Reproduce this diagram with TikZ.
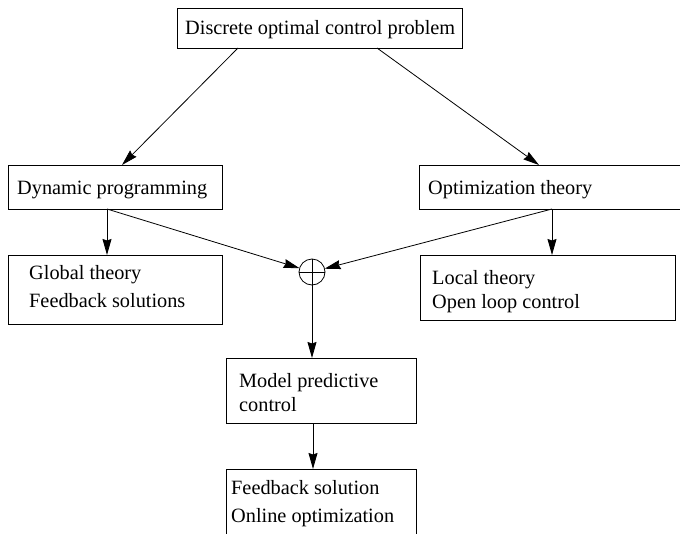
\documentclass[tikz,border=0pt]{standalone}
\usepackage{fontspec}
\setmainfont{Liberation Serif}
\usetikzlibrary{arrows.meta,calc}
\begin{document}
\begin{tikzpicture}[x=1pt,y=-1pt,
  box/.style={draw, line width=0.8pt, inner sep=0pt, outer sep=0pt},
  txt/.style={anchor=base west, inner sep=0pt, font=\fontsize{20.3}{24}\selectfont},
  conn/.style={line width=0.8pt, -{Stealth[length=16pt,width=9pt,inset=1.5pt]}},
  sumnode/.style={circle, draw, line width=0.8pt, minimum size=26pt, inner sep=0pt, outer sep=0pt}]
\useasboundingbox (0,0) rectangle (680,533);
\clip (0,0) rectangle (680,533);
% boxes
\node[box, minimum width=285pt, minimum height=40pt] (top) at (319.5,28) {};
\node[box, minimum width=214pt, minimum height=44pt] (dp) at (115,187) {};
\node[box, minimum width=266pt, minimum height=44pt] (opt) at (552,187) {};
\node[box, minimum width=214pt, minimum height=69pt] (glob) at (115,289.5) {};
\node[box, minimum width=255pt, minimum height=65pt] (loc) at (547.5,287.5) {};
\node[sumnode] (op) at (312,272) {};
\node[box, minimum width=190pt, minimum height=65pt] (mpc) at (321,390.5) {};
\node[box, minimum width=190pt, minimum height=90pt] (fb) at (321,514) {};
% texts
\node[txt] (t1) at (185,34) {Discrete optimal control problem};
\node[txt] (t2) at (17,194) {Dynamic programming};
\node[txt] (t3) at (428,194) {Optimization theory};
\node[txt] (t4) at (29,279) {Global theory};
\node[txt] (t5) at (29,307) {Feedback solutions};
\node[txt] (t6) at (432,284) {Local theory};
\node[txt] (t7) at (432,308) {Open loop control};
\node[txt] (t8) at (239,387) {Model predictive};
\node[txt] (t9) at (239,411) {control};
\node[txt] (t10) at (231,494) {Feedback solution};
\node[txt] (t11) at (231,522) {Online optimization};
% cross in summing node
\draw[line width=0.8pt] (op.north) -- (op.south) (op.west) -- (op.east);
% connectors
\draw[conn] ([xshift=61pt]top.south west) -- ([xshift=114pt]dp.north west);
\draw[conn] ([xshift=200pt]top.south west) -- ([xshift=120pt]opt.north west);
\draw[conn] ([xshift=99pt]dp.south west) -- ([xshift=99pt]glob.north west);
\draw[conn] ([xshift=99pt]dp.south west) -- (op);
\draw[conn] ([xshift=133pt]opt.south west) -- (op);
\draw[conn] ([xshift=133pt]opt.south west) -- ([xshift=132pt]loc.north west);
\draw[conn] (op.south) -- (op.south |- mpc.north);
\draw[conn] ([xshift=-8pt]mpc.south) -- ([xshift=-8pt]fb.north);
\end{tikzpicture}
\end{document}
